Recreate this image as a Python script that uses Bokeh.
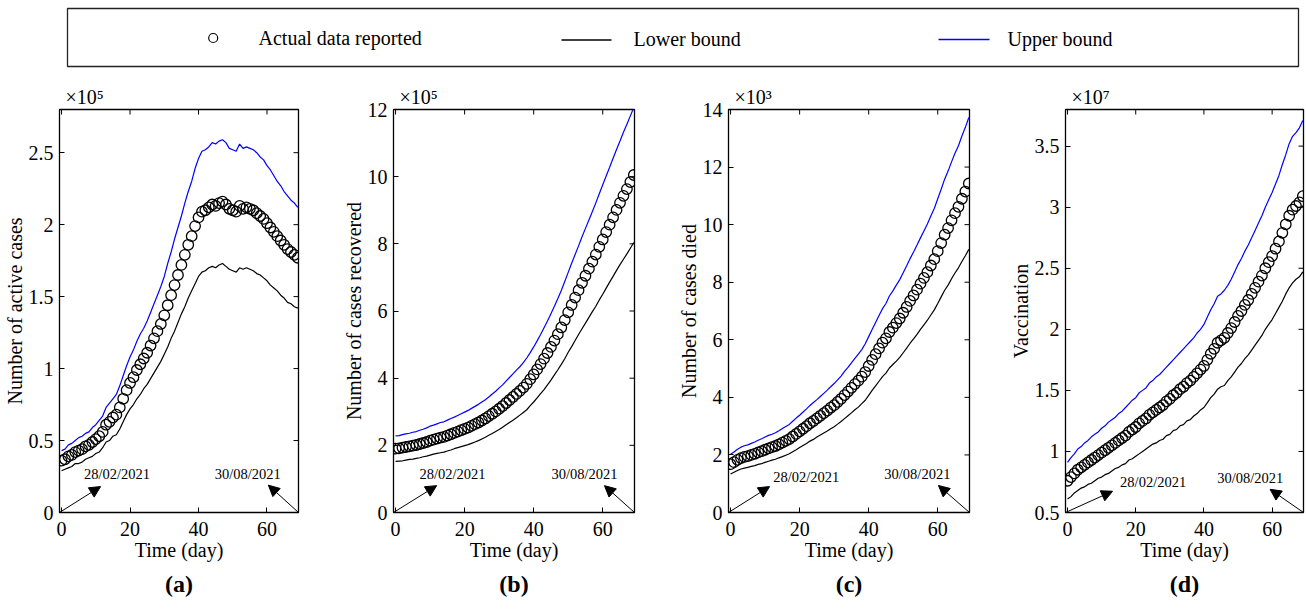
from bokeh.plotting import figure
from bokeh.layouts import column, row
from bokeh.models import (Range1d, FixedTicker, Label, Arrow,
                          NormalHead, Title, CustomJSTickFormatter, BoxAnnotation)
from bokeh.core.properties import value
from bokeh.embed import file_html
from bokeh.resources import INLINE

FONT = "Liberation Serif"

# ---------------- data ----------------
days = list(range(70))

# (a) active cases, units of 1e5
active_cases = [0.36, 0.37, 0.39, 0.40, 0.42, 0.43, 0.44, 0.46, 0.47, 0.49,
                0.51, 0.53, 0.56, 0.61, 0.63, 0.66, 0.68, 0.73, 0.79, 0.85,
                0.90, 0.94, 0.99, 1.03, 1.07, 1.11, 1.16, 1.21, 1.26, 1.31,
                1.37, 1.44, 1.51, 1.58, 1.65, 1.72, 1.79, 1.86, 1.92, 1.99,
                2.05, 2.09, 2.10, 2.12, 2.14, 2.13, 2.15, 2.16, 2.14, 2.11,
                2.10, 2.09, 2.13, 2.11, 2.12, 2.11, 2.10, 2.08, 2.06, 2.04,
                2.01, 1.98, 1.95, 1.92, 1.89, 1.86, 1.83, 1.81, 1.79, 1.77]
active_lower = [0.29, 0.30, 0.31, 0.32, 0.34, 0.34, 0.35, 0.37, 0.38, 0.39,
                0.41, 0.42, 0.45, 0.49, 0.50, 0.53, 0.54, 0.58, 0.63, 0.68,
                0.72, 0.75, 0.79, 0.82, 0.86, 0.89, 0.93, 0.97, 1.01, 1.05,
                1.10, 1.15, 1.21, 1.26, 1.32, 1.38, 1.43, 1.49, 1.54, 1.59,
                1.64, 1.67, 1.68, 1.70, 1.71, 1.70, 1.72, 1.73, 1.71, 1.69,
                1.68, 1.67, 1.70, 1.69, 1.70, 1.69, 1.68, 1.66, 1.65, 1.63,
                1.61, 1.58, 1.56, 1.54, 1.51, 1.49, 1.46, 1.45, 1.43, 1.42]
active_upper = [0.43, 0.44, 0.47, 0.48, 0.50, 0.52, 0.53, 0.55, 0.56, 0.59,
                0.61, 0.64, 0.67, 0.73, 0.76, 0.79, 0.82, 0.88, 0.95, 1.02,
                1.08, 1.13, 1.19, 1.24, 1.28, 1.33, 1.39, 1.45, 1.51, 1.57,
                1.64, 1.73, 1.81, 1.90, 1.98, 2.06, 2.15, 2.23, 2.30, 2.39,
                2.46, 2.51, 2.52, 2.54, 2.57, 2.56, 2.58, 2.59, 2.57, 2.53,
                2.52, 2.51, 2.56, 2.53, 2.54, 2.53, 2.52, 2.50, 2.47, 2.45,
                2.41, 2.38, 2.34, 2.30, 2.27, 2.23, 2.20, 2.17, 2.15, 2.12]

# (b) recovered, units of 1e5
recovered = [1.90, 1.91, 1.93, 1.95, 1.97, 1.99, 2.01, 2.04, 2.07, 2.10,
             2.14, 2.17, 2.20, 2.23, 2.25, 2.29, 2.33, 2.37, 2.41, 2.45,
             2.49, 2.53, 2.58, 2.63, 2.68, 2.74, 2.80, 2.87, 2.94, 3.01,
             3.09, 3.17, 3.26, 3.35, 3.44, 3.53, 3.62, 3.72, 3.83, 3.97,
             4.11, 4.26, 4.42, 4.58, 4.75, 4.93, 5.12, 5.31, 5.51, 5.73,
             5.96, 6.18, 6.40, 6.62, 6.84, 7.05, 7.26, 7.47, 7.68, 7.91,
             8.13, 8.35, 8.57, 8.79, 9.01, 9.22, 9.43, 9.63, 9.84, 10.05]
recovered_lower = [1.52, 1.53, 1.54, 1.56, 1.58, 1.59, 1.61, 1.63, 1.66, 1.68,
                   1.71, 1.74, 1.76, 1.78, 1.80, 1.83, 1.86, 1.90, 1.93, 1.96,
                   1.99, 2.02, 2.06, 2.10, 2.14, 2.19, 2.24, 2.30, 2.35, 2.41,
                   2.47, 2.54, 2.61, 2.68, 2.75, 2.82, 2.90, 2.98, 3.06, 3.18,
                   3.29, 3.41, 3.54, 3.66, 3.80, 3.94, 4.10, 4.25, 4.41, 4.58,
                   4.77, 4.94, 5.12, 5.30, 5.47, 5.64, 5.81, 5.98, 6.14, 6.33,
                   6.50, 6.68, 6.86, 7.03, 7.21, 7.38, 7.54, 7.70, 7.87, 8.04]
recovered_upper = [2.28, 2.29, 2.32, 2.34, 2.36, 2.39, 2.41, 2.45, 2.48, 2.52,
                   2.57, 2.60, 2.64, 2.68, 2.70, 2.75, 2.80, 2.84, 2.89, 2.94,
                   2.99, 3.04, 3.10, 3.16, 3.22, 3.29, 3.36, 3.44, 3.53, 3.61,
                   3.71, 3.80, 3.91, 4.02, 4.13, 4.24, 4.34, 4.46, 4.60, 4.76,
                   4.93, 5.11, 5.30, 5.50, 5.70, 5.92, 6.14, 6.37, 6.61, 6.88,
                   7.15, 7.42, 7.68, 7.94, 8.21, 8.46, 8.71, 8.96, 9.22, 9.49,
                   9.76, 10.02, 10.28, 10.55, 10.81, 11.06, 11.32, 11.56, 11.81, 12.06]

# (c) died, units of 1e3
died = [1.68, 1.75, 1.83, 1.89, 1.93, 1.96, 2.00, 2.04, 2.09, 2.13,
        2.18, 2.23, 2.27, 2.31, 2.37, 2.43, 2.49, 2.55, 2.64, 2.73,
        2.82, 2.91, 3.00, 3.10, 3.18, 3.27, 3.36, 3.45, 3.54, 3.64,
        3.73, 3.84, 3.95, 4.08, 4.20, 4.33, 4.46, 4.58, 4.72, 4.88,
        5.09, 5.30, 5.50, 5.70, 5.90, 6.05, 6.27, 6.42, 6.58, 6.74,
        6.94, 7.14, 7.35, 7.54, 7.74, 7.95, 8.15, 8.35, 8.58, 8.80,
        9.08, 9.36, 9.65, 9.88, 10.15, 10.40, 10.62, 10.90, 11.15, 11.43]
died_lower = [1.34, 1.40, 1.46, 1.51, 1.54, 1.57, 1.60, 1.63, 1.67, 1.70,
              1.74, 1.78, 1.82, 1.85, 1.90, 1.94, 1.99, 2.04, 2.11, 2.18,
              2.26, 2.33, 2.40, 2.48, 2.54, 2.62, 2.69, 2.76, 2.83, 2.91,
              2.98, 3.07, 3.16, 3.26, 3.36, 3.46, 3.57, 3.66, 3.78, 3.90,
              4.07, 4.24, 4.40, 4.56, 4.72, 4.84, 5.02, 5.14, 5.26, 5.39,
              5.55, 5.71, 5.88, 6.03, 6.19, 6.36, 6.52, 6.68, 6.86, 7.04,
              7.26, 7.49, 7.72, 7.90, 8.12, 8.32, 8.50, 8.72, 8.92, 9.14]
died_upper = [2.02, 2.10, 2.20, 2.27, 2.32, 2.35, 2.40, 2.45, 2.51, 2.56,
              2.62, 2.68, 2.72, 2.77, 2.84, 2.92, 2.99, 3.06, 3.17, 3.28,
              3.38, 3.49, 3.60, 3.72, 3.82, 3.92, 4.03, 4.14, 4.25, 4.37,
              4.48, 4.61, 4.74, 4.90, 5.04, 5.20, 5.35, 5.50, 5.66, 5.86,
              6.11, 6.36, 6.60, 6.84, 7.08, 7.26, 7.52, 7.70, 7.90, 8.09,
              8.33, 8.57, 8.82, 9.05, 9.29, 9.54, 9.78, 10.02, 10.30, 10.56,
              10.90, 11.23, 11.58, 11.86, 12.18, 12.48, 12.74, 13.08, 13.38, 13.72]

# (d) vaccination, units of 1e7
vaccination = [0.76, 0.79, 0.82, 0.85, 0.87, 0.89, 0.91, 0.93, 0.95, 0.97,
               0.99, 1.01, 1.03, 1.05, 1.07, 1.09, 1.11, 1.13, 1.16, 1.18,
               1.20, 1.23, 1.25, 1.27, 1.30, 1.32, 1.34, 1.36, 1.38, 1.41,
               1.43, 1.46, 1.48, 1.51, 1.53, 1.56, 1.58, 1.61, 1.64, 1.67,
               1.70, 1.75, 1.80, 1.84, 1.89, 1.91, 1.93, 1.97, 2.01, 2.06,
               2.11, 2.15, 2.20, 2.24, 2.29, 2.34, 2.39, 2.44, 2.50, 2.55,
               2.60, 2.66, 2.72, 2.79, 2.86, 2.93, 2.98, 3.01, 3.04, 3.09]
vaccination_lower = [0.61, 0.63, 0.66, 0.68, 0.70, 0.71, 0.73, 0.74, 0.76, 0.78,
                     0.79, 0.81, 0.82, 0.84, 0.86, 0.87, 0.89, 0.90, 0.93, 0.94,
                     0.96, 0.98, 1.00, 1.02, 1.04, 1.06, 1.07, 1.09, 1.10, 1.13,
                     1.14, 1.17, 1.18, 1.21, 1.22, 1.25, 1.26, 1.29, 1.31, 1.34,
                     1.36, 1.40, 1.44, 1.47, 1.51, 1.53, 1.54, 1.58, 1.61, 1.65,
                     1.69, 1.72, 1.76, 1.79, 1.83, 1.87, 1.91, 1.95, 2.00, 2.04,
                     2.08, 2.13, 2.18, 2.23, 2.29, 2.34, 2.38, 2.41, 2.43, 2.47]
vaccination_upper = [0.91, 0.95, 0.98, 1.02, 1.04, 1.07, 1.09, 1.12, 1.14, 1.16,
                     1.19, 1.21, 1.24, 1.26, 1.28, 1.31, 1.33, 1.36, 1.39, 1.42,
                     1.44, 1.48, 1.50, 1.52, 1.56, 1.58, 1.61, 1.63, 1.66, 1.69,
                     1.72, 1.75, 1.78, 1.81, 1.84, 1.87, 1.90, 1.93, 1.97, 2.00,
                     2.04, 2.10, 2.16, 2.21, 2.27, 2.29, 2.32, 2.36, 2.41, 2.47,
                     2.53, 2.58, 2.64, 2.69, 2.75, 2.81, 2.87, 2.93, 3.00, 3.06,
                     3.12, 3.19, 3.26, 3.35, 3.43, 3.52, 3.58, 3.61, 3.65, 3.71]

x_ticks = [0, 20, 40, 60]
start_date = "28/02/2021"
end_date = "30/08/2021"
legend_labels = ["Actual data reported", "Lower bound", "Upper bound"]

# ---------------- panel configuration (layout only) ----------------
panels = [
    dict(tag="(a)", ylabel="Number of active cases", mult="×10⁵",
         data=active_cases, lo=active_lower, hi=active_upper,
         yr=(0, 2.8), yticks=[0, 0.5, 1, 1.5, 2, 2.5],
         left=59, right=32, fw=239, toff=2,
         a1=(11.4, 0.18), t1=(16.2, 0.27), a2=(60.4, 0.19), t2=(54.4, 0.27)),
    dict(tag="(b)", ylabel="Number of cases recovered", mult="×10⁵",
         data=recovered, lo=recovered_lower, hi=recovered_upper,
         yr=(0, 12), yticks=[0, 2, 4, 6, 8, 10, 12],
         left=63, right=31, fw=241, toff=7,
         a1=(11.9, 0.80), t1=(16.5, 1.15), a2=(60.5, 0.80), t2=(54.7, 1.15)),
    dict(tag="(c)", ylabel="Number of cases died", mult="×10³",
         data=died, lo=died_lower, hi=died_upper,
         yr=(0, 14), yticks=[0, 2, 4, 6, 8, 10, 12, 14],
         left=63, right=31, fw=241, toff=11,
         a1=(11.3, 0.90), t1=(21.9, 1.23), a2=(60.2, 0.94), t2=(54.1, 1.34)),
    dict(tag="(d)", ylabel="Vaccination", mult="×10⁷",
         data=vaccination, lo=vaccination_lower, hi=vaccination_upper,
         yr=(0.5, 3.8), yticks=[0.5, 1, 1.5, 2, 2.5, 3, 3.5],
         left=65, right=3, fw=238, toff=16,
         a1=(13.2, 0.674), t1=(25.1, 0.75), a2=(59.4, 0.69), t2=(53.6, 0.78)),
]

XR = (-0.6, 69.2)
FH = 403
TICK = 5  # px


def style_axis(ax):
    ax.major_tick_in = TICK
    ax.major_tick_out = 0
    ax.minor_tick_line_color = None
    ax.axis_line_color = "black"
    ax.major_tick_line_color = "black"
    ax.major_label_text_font = FONT
    ax.major_label_text_color = "black"
    ax.major_label_text_font_size = "20px"
    ax.axis_label_text_font = FONT
    ax.axis_label_text_font_size = "20px"
    ax.axis_label_text_font_style = "normal"
    ax.axis_label_text_color = "black"


def make_panel(c):
    p = figure(frame_width=c["fw"], frame_height=FH,
               x_range=Range1d(*XR), y_range=Range1d(*c["yr"]),
               output_backend="svg", toolbar_location=None,
               min_border_left=c["left"], min_border_right=c["right"],
               min_border_top=41, min_border_bottom=0)
    p.grid.visible = False
    p.outline_line_color = "black"
    p.outline_line_width = 1.3

    xa = p.xaxis[0]
    xa.ticker = FixedTicker(ticks=x_ticks)
    style_axis(xa)
    xa.major_label_standoff = 9
    xa.axis_label = "Time (day)"
    xa.axis_label_standoff = 0

    ya = p.yaxis[0]
    ya.ticker = FixedTicker(ticks=c["yticks"])
    ya.formatter = CustomJSTickFormatter(code="return String(tick);")
    style_axis(ya)
    ya.major_label_standoff = 6
    ya.axis_label = c["ylabel"]
    ya.axis_label_standoff = 0

    # inward tick marks on the top and right edges of the box
    y0, y1 = c["yr"]
    dy = TICK * (y1 - y0) / FH
    dx = TICK * (XR[1] - XR[0]) / c["fw"]
    p.segment(x0=x_ticks, y0=[y1] * len(x_ticks), x1=x_ticks,
              y1=[y1 - dy] * len(x_ticks), line_color="black", line_width=1)
    p.segment(x0=[XR[1]] * len(c["yticks"]), y0=c["yticks"],
              x1=[XR[1] - dx] * len(c["yticks"]), y1=c["yticks"],
              line_color="black", line_width=1)

    p.line(days, c["lo"], line_color="black", line_width=1.2)
    p.line(days, c["hi"], line_color="#0000ff", line_width=1.2)
    p.scatter(days, c["data"], marker="circle", size=10.5, fill_color=None,
              line_color="black", line_width=1.3)

    for (sx, (ex, ey)) in ((XR[0], c["a1"]), (XR[1], c["a2"])):
        p.add_layout(Arrow(end=NormalHead(size=11, fill_color="black", line_color="black",
                                          line_width=1),
                           x_start=sx, y_start=y0, x_end=ex, y_end=ey,
                           line_color="black", line_width=1))
    for txt, (tx, ty) in ((start_date, c["t1"]), (end_date, c["t2"])):
        p.add_layout(Label(x=tx, y=ty, text=txt, text_align="center",
                           text_baseline="middle", text_font=FONT,
                           text_font_size="14.5px", text_color="black"))

    p.add_layout(Title(text=c["mult"], align="left", offset=6, standoff=4,
                       text_font=FONT, text_font_size="20px",
                       text_font_style="normal", text_color="black"), "above")

    p.add_layout(Title(text=c["tag"], align="center", text_font=FONT,
                       text_font_size="24px", text_font_style="bold",
                       text_color="black", offset=c["toff"]), "below")
    return p


figs = [make_panel(c) for c in panels]

# ---------------- legend strip ----------------
lg = figure(width=1306, height=68, x_range=Range1d(0, 1306), y_range=Range1d(68, 0),
            output_backend="svg", toolbar_location=None, min_border=0,
            x_axis_type=None, y_axis_type=None)
lg.outline_line_color = None
lg.grid.visible = False
lg.add_layout(BoxAnnotation(left=67, right=1298, top=8, bottom=66, fill_alpha=0,
                            line_color="#222222", line_alpha=1.0, line_width=1.3))
lg.scatter([212.7], [37.5], marker="circle", size=9, fill_color=None,
           line_color="black", line_width=1.2)
lg.line([561, 611], [39.5, 39.5], line_color="black", line_width=1.3)
lg.line([938, 989], [39, 39], line_color="#0000ff", line_width=1.3)
lg.text(x=[258, 633, 1007], y=[37, 38.5, 38.5], text=legend_labels,
        text_font=value(FONT), text_font_size="20px", text_baseline="middle",
        text_color="black")

layout = column(lg, row(*figs))

with open("out.html", "w") as f:
    f.write(file_html(layout, INLINE))
